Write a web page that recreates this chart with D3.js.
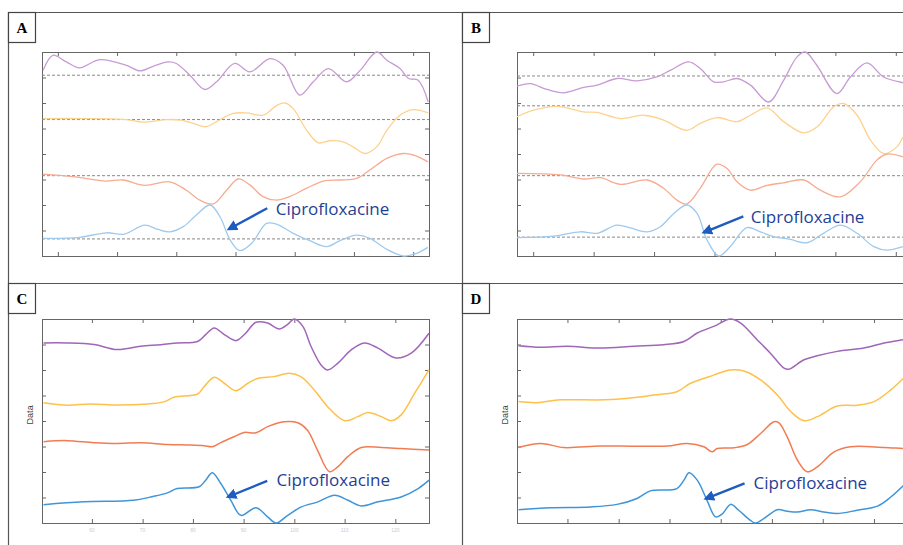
<!DOCTYPE html>
<html>
<head>
<meta charset="utf-8">
<script src="https://cdn.jsdelivr.net/npm/d3@7"></script>
<style>
  body { margin: 0; background: #fff; }
  svg { display: block; }
</style>
</head>
<body>
<div class="chart"></div>
<script>
// series are [x, y]; x runs 0..100 across the plot, y in tick units 0..8
const aPurple = [[0.3,7.28],[2.8,7.87],[6.3,7.61],[9.7,7.38],[14.9,7.70],[21.8,7.48],[25.3,7.26],[28.7,7.44],[32.6,7.61],[34.7,7.55],[38.2,7.09],[42.1,6.53],[45.1,6.83],[49.8,7.55],[53.7,7.22],[58.9,7.74],[62.3,7.48],[66.6,6.31],[70.1,6.83],[74.0,7.35],[78.7,6.83],[82.2,7.28],[86.5,8.00],[89.1,7.68],[92.5,7.35],[94.7,6.96],[97.2,6.89],[99.8,6.04]];
const aYellow = [[0.3,5.39],[10.6,5.39],[21.8,5.35],[26.1,5.25],[32.2,5.35],[36.0,5.33],[39.1,5.20],[42.5,5.07],[45.1,5.27],[49.4,5.59],[52.8,5.61],[57.2,5.52],[60.6,5.90],[62.8,6.00],[64.9,5.78],[68.4,4.93],[71.4,4.44],[74.4,4.52],[77.8,4.48],[80.4,4.28],[83.4,4.02],[86.5,4.28],[89.1,4.93],[92.5,5.52],[95.9,5.74],[99.8,5.61]];
const aSalmon = [[0.3,3.21],[8.0,3.11],[16.6,2.94],[20.9,2.98],[26.6,2.77],[33.0,2.91],[37.3,2.58],[40.8,2.19],[44.2,2.04],[47.7,2.58],[50.7,3.02],[53.7,2.79],[57.1,2.33],[60.6,2.19],[64.0,2.33],[68.4,2.66],[72.7,2.94],[77.0,2.98],[81.3,3.04],[84.7,3.37],[89.1,3.83],[93.4,4.02],[96.8,3.92],[99.7,3.69]];
const aBlue = [[0.3,0.69],[9.7,0.73],[16.6,0.91],[21.3,0.86],[26.5,1.21],[30.0,1.04],[33.0,0.95],[36.5,1.15],[39.9,1.61],[43.4,2.00],[46.0,1.54],[48.6,0.63],[51.1,0.21],[54.2,0.50],[58.0,1.28],[60.6,1.25],[64.9,0.89],[69.2,0.60],[73.5,0.37],[77.0,0.60],[81.3,0.82],[84.7,0.69],[89.1,0.26],[93.4,0.00],[96.4,0.08],[99.7,0.34]];
const aBase = [7.09, 5.35, 3.15, 0.67];

const bPurple = [[0,6.66],[3.4,6.76],[7.6,6.53],[11.8,6.40],[16.9,6.61],[20.3,6.70],[25.3,6.96],[30.4,6.87],[35.4,7.02],[38.8,7.28],[43.5,7.61],[46.4,7.35],[49.8,6.83],[52.3,6.83],[55.7,6.96],[59.1,6.70],[63.7,6.04],[67.5,6.89],[70.9,7.81],[73.0,8.00],[75.9,7.48],[81.0,6.37],[84.4,7.02],[88.6,7.57],[92.8,7.02],[97.8,6.79],[100,6.70]];
const bYellow = [[0,5.46],[4.2,5.72],[10.1,5.87],[16.9,5.65],[20.3,5.63],[26.2,5.39],[32.1,5.52],[37.1,5.33],[43.0,4.93],[46.4,5.20],[50.6,5.43],[55.7,5.27],[59.1,5.52],[63.3,5.81],[67.5,5.27],[72.6,4.83],[76.0,5.07],[80.2,5.85],[82.7,5.98],[86.1,5.52],[89.5,4.54],[92.8,4.02],[96.2,4.28],[97.8,4.67],[100,5.00]];
const bSalmon = [[0,3.24],[11.0,3.18],[16.9,3.02],[21.1,3.07],[26.2,2.81],[32.9,2.98],[37.1,2.66],[40.5,2.19],[43.0,2.04],[46.4,2.66],[50.6,3.60],[53.2,3.43],[55.7,2.91],[59.1,2.58],[63.3,2.77],[67.5,2.87],[72.6,2.98],[76.8,2.58],[81.9,2.32],[86.9,2.91],[91.1,3.76],[93.7,4.00],[97.8,3.89],[100,3.75]];
const bBlue = [[0,0.72],[9.3,0.78],[16.0,0.95],[20.3,0.89],[25.3,1.21],[28.7,1.10],[32.9,0.95],[36.3,1.15],[39.7,1.67],[43.0,2.00],[45.6,1.67],[48.1,0.63],[51.1,0.00],[54.0,0.37],[58.2,1.11],[61.6,0.95],[65.0,0.76],[69.2,0.65],[73.4,0.52],[77.6,0.89],[81.9,1.21],[86.1,0.89],[90.3,0.37],[93.7,0.23],[97.8,0.37],[100,0.50]];
const bBase = [7.06, 5.89, 3.15, 0.74];

const cPurple = [[0.4,7.06],[6.5,7.06],[13.4,7.00],[19.4,6.80],[25.5,6.93],[30.7,6.99],[35.0,7.06],[40.2,7.12],[42.3,7.39],[44.5,7.65],[47.1,7.39],[50.1,7.15],[52.3,7.39],[55.3,7.87],[58.3,7.84],[61.3,7.61],[63.4,7.78],[65.2,8.00],[67.4,7.71],[69.5,6.93],[72.1,6.20],[73.8,6.00],[76.4,6.26],[79.9,6.79],[83.3,7.06],[86.8,6.86],[91.5,6.47],[95.4,6.66],[100,7.44]];
const cYellow = [[0.4,4.72],[6.5,4.62],[12.5,4.67],[19.4,4.63],[26.3,4.66],[31.5,4.75],[34.1,4.93],[40.2,5.06],[41.9,5.35],[44.5,5.72],[47.1,5.48],[50.1,5.19],[53.2,5.48],[55.7,5.67],[60.0,5.74],[63.9,5.87],[66.9,5.74],[70.4,5.21],[73.8,4.56],[78.2,4.01],[81.6,4.17],[84.2,4.33],[87.7,4.17],[90.3,4.01],[92.8,4.24],[96.3,5.09],[100,6.01]];
const cSalmon = [[0.4,3.19],[6.5,3.23],[13.4,3.15],[19.4,3.12],[25.5,3.15],[32.4,3.08],[37.6,3.06],[41.9,3.03],[44.0,2.99],[46.2,3.15],[49.6,3.38],[52.2,3.55],[55.3,3.54],[58.3,3.78],[62.6,3.97],[66.1,3.93],[68.6,3.64],[71.2,2.85],[74.3,2.01],[76.4,2.20],[79.0,2.60],[82.5,2.96],[87.7,2.96],[92.8,2.92],[100,2.86]];
const cBlue = [[0.4,0.72],[10.8,0.83],[23.7,0.89],[28.1,1.02],[32.4,1.18],[34.9,1.35],[40.6,1.42],[42.3,1.68],[44.0,1.97],[46.2,1.55],[48.8,0.89],[51.4,0.30],[55.3,0.60],[58.3,0.24],[60.5,0.00],[63.5,0.30],[67.0,0.63],[71.3,0.83],[75.6,1.09],[79.1,0.89],[82.5,0.67],[86.8,0.83],[92.8,1.02],[97.2,1.35],[100,1.68]];

const dPurple = [[0.4,6.95],[6.0,6.89],[12.8,6.93],[21.3,6.86],[29.9,6.93],[37.5,6.99],[42.7,7.12],[46.1,7.45],[50.3,7.71],[54.6,8.00],[57.2,7.84],[61.4,7.19],[64.8,6.66],[68.3,6.07],[69.5,6.03],[73.4,6.40],[76.8,6.56],[81.9,6.73],[88.7,6.86],[93.9,7.06],[98.9,7.19],[100,7.22]];
const dYellow = [[0.4,4.76],[5.1,4.72],[11.1,4.83],[22.2,4.83],[30.7,4.93],[35.0,5.02],[40.9,5.15],[44.4,5.48],[50.3,5.80],[54.6,6.00],[58.0,5.96],[62.3,5.61],[66.6,5.02],[70.0,4.37],[73.4,4.01],[76.8,4.17],[81.9,4.59],[87.0,4.62],[91.3,4.76],[95.6,5.22],[98.9,5.68],[100,5.85]];
const dSalmon = [[0.4,2.96],[6.0,3.12],[11.9,2.96],[21.3,3.02],[29.9,3.01],[38.4,3.02],[43.5,3.12],[47.8,2.99],[49.9,2.79],[51.2,2.92],[55.5,2.95],[58.9,3.08],[62.3,3.51],[65.7,3.97],[67.0,3.93],[69.1,3.38],[71.7,2.47],[74.2,2.01],[76.8,2.20],[81.1,2.79],[85.3,2.99],[93.9,2.96],[98.9,2.92],[100,2.92]];
const dBlue = [[0.4,0.52],[8.5,0.60],[18.8,0.63],[25.6,0.73],[30.7,0.96],[34.1,1.26],[40.9,1.35],[42.7,1.68],[44.0,1.97],[46.1,1.68],[48.6,0.89],[50.8,0.24],[52.6,0.37],[54.6,0.73],[56.7,0.50],[59.7,0.10],[61.0,0.00],[63.1,0.17],[66.6,0.52],[69.1,0.46],[71.7,0.43],[75.1,0.52],[78.5,0.43],[81.9,0.37],[87.0,0.50],[92.2,0.66],[95.6,1.02],[98.9,1.48],[100,1.65]];

const yTicks = [0, 1, 2, 3, 4, 5, 6, 7, 8];
const xTicksAB = [4.1, 19.4, 34.7, 50.0, 65.3, 80.6, 95.9];
const xTicksCD = [12.9, 26.0, 39.0, 52.1, 65.2, 78.2, 91.3];
const xTickLabelsC = ["60", "70", "80", "90", "100", "110", "120"];
const annotation = "Ciprofloxacine";

const width = 903, height = 545;
const svg = d3.select('.chart').append('svg')
  .attr('width', width)
  .attr('height', height);

// panel frame lines
const frame = svg.append('g').attr('stroke', '#555').attr('stroke-width', 1.2);
frame.append('line').attr('x1', 8).attr('x2', 903).attr('y1', 12.5).attr('y2', 12.5);
frame.append('line').attr('x1', 8).attr('x2', 903).attr('y1', 283.5).attr('y2', 283.5);
frame.append('line').attr('x1', 8.5).attr('x2', 8.5).attr('y1', 12).attr('y2', 545);
frame.append('line').attr('x1', 462.5).attr('x2', 462.5).attr('y1', 12).attr('y2', 545);

const lightCols = ['#c79bd3', '#fdd28f', '#f7ab90', '#9ecaee'];
const darkCols = ['#a066b8', '#fec04a', '#f27c52', '#3f95d9'];

const panels = [
  {id: 'A', box: [8, 12], x: 42, y: 52, w: 387, h: 204, series: [aPurple, aYellow, aSalmon, aBlue], base: aBase,
    cols: lightCols, lw: 1.3, xt: xTicksAB, tip: [48.2, 1.05], tail: [58.2, 1.87], text: [60.4, 1.6]},
  {id: 'B', box: [462, 12], x: 517, y: 52, w: 395, h: 204, series: [bPurple, bYellow, bSalmon, bBlue], base: bBase,
    cols: lightCols, lw: 1.3, xt: xTicksAB, tip: [47.2, 0.92], tail: [57.3, 1.55], text: [59.2, 1.3]},
  {id: 'C', box: [8, 283], x: 42, y: 319, w: 387, h: 204, series: [cPurple, cYellow, cSalmon, cBlue], base: [],
    cols: darkCols, lw: 1.5, xt: xTicksCD, labels: xTickLabelsC, ylab: true, tip: [48.0, 1.02], tail: [58.2, 1.65], text: [60.6, 1.45]},
  {id: 'D', box: [462, 283], x: 517, y: 319, w: 391, h: 204, series: [dPurple, dYellow, dSalmon, dBlue], base: [],
    cols: darkCols, lw: 1.5, xt: xTicksCD, ylab: true, tip: [48.2, 0.95], tail: [58.2, 1.55], text: [60.5, 1.32]}
];

svg.append('defs').append('marker')
  .attr('id', 'head')
  .attr('viewBox', '0 0 10 10')
  .attr('refX', 8).attr('refY', 5)
  .attr('markerWidth', 4.5).attr('markerHeight', 4.5)
  .attr('orient', 'auto')
  .append('path')
  .attr('d', 'M0,0L10,5L0,10z')
  .attr('fill', '#1f5cbf');

panels.forEach(function(p) {
  const x = d3.scaleLinear().domain([0, 100]).range([p.x, p.x + p.w]);
  const y = d3.scaleLinear().domain([0, 8]).range([p.y + p.h, p.y]);
  const g = svg.append('g');

  // label box
  g.append('rect')
    .attr('x', p.box[0] + 0.5).attr('y', p.box[1] + 0.5)
    .attr('width', 27).attr('height', 30)
    .attr('fill', '#fff').attr('stroke', '#444').attr('stroke-width', 1.2);
  g.append('text')
    .attr('x', p.box[0] + 14).attr('y', p.box[1] + 21)
    .attr('text-anchor', 'middle')
    .attr('font-family', 'Liberation Serif, serif')
    .attr('font-weight', 'bold')
    .attr('font-size', '15px')
    .text(p.id);

  // axes, ticks pointing inward
  const axes = [
    [d3.axisBottom(x).tickValues(p.xt).tickSize(-4), 0, p.y + p.h],
    [d3.axisTop(x).tickValues(p.xt).tickSize(-4), 0, p.y],
    [d3.axisLeft(y).tickValues(yTicks).tickSize(-4), p.x, 0],
    [d3.axisRight(y).tickValues(yTicks).tickSize(-4), p.x + p.w, 0]
  ];
  axes.forEach(function(a) {
    const ax = g.append('g')
      .attr('transform', 'translate(' + a[1] + ',' + a[2] + ')')
      .call(a[0].tickFormat(''));
    ax.select('.domain').attr('stroke', '#666');
    ax.selectAll('.tick line').attr('stroke', '#666');
  });

  if (p.labels) {
    g.selectAll('.xlab').data(p.xt).enter().append('text')
      .attr('x', function(d) { return x(d); })
      .attr('y', p.y + p.h + 9)
      .attr('text-anchor', 'middle')
      .attr('font-family', 'Liberation Sans, sans-serif')
      .attr('font-size', '5px')
      .attr('fill', '#ccc')
      .text(function(d, i) { return p.labels[i]; });
  }

  if (p.ylab) {
    g.append('text')
      .attr('transform', 'translate(' + (p.x - 9) + ',' + (p.y + p.h * 0.47) + ') rotate(-90)')
      .attr('text-anchor', 'middle')
      .attr('font-family', 'Liberation Sans Narrow, Liberation Sans, sans-serif')
      .attr('font-size', '9px')
      .attr('fill', '#444')
      .text('Data');
  }

  // dashed baselines
  g.selectAll('.base').data(p.base).enter().append('line')
    .attr('x1', p.x).attr('x2', p.x + p.w)
    .attr('y1', function(d) { return y(d); })
    .attr('y2', function(d) { return y(d); })
    .attr('stroke', '#888')
    .attr('stroke-width', 1)
    .attr('stroke-dasharray', '3,2');

  const line = d3.line()
    .x(function(d) { return x(d[0]); })
    .y(function(d) { return y(d[1]); })
    .curve(d3.curveCatmullRom.alpha(0.5));

  g.selectAll('.series').data(p.series).enter().append('path')
    .attr('d', line)
    .attr('fill', 'none')
    .attr('stroke', function(d, i) { return p.cols[i]; })
    .attr('stroke-width', p.lw);

  // annotation arrow + label
  g.append('line')
    .attr('x1', x(p.tail[0])).attr('y1', y(p.tail[1]))
    .attr('x2', x(p.tip[0])).attr('y2', y(p.tip[1]))
    .attr('stroke', '#1f5cbf')
    .attr('stroke-width', 2.4)
    .attr('marker-end', 'url(#head)');
  g.append('text')
    .attr('x', x(p.text[0])).attr('y', y(p.text[1]))
    .attr('font-family', 'Open Sans, sans-serif')
    .attr('font-size', '17px')
    .attr('fill', '#1f3f96')
    .text(annotation);
});
</script>
</body>
</html>
